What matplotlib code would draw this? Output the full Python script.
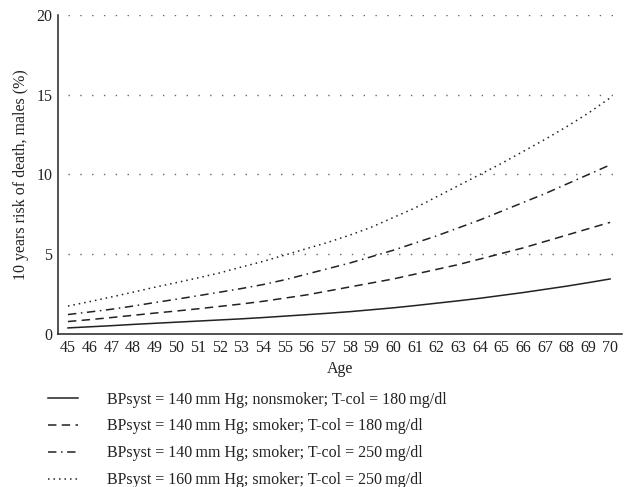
import matplotlib
matplotlib.use("Agg")
import matplotlib.pyplot as plt
from matplotlib.lines import Line2D

# Values (risk in %)
ages = list(range(45, 71))
nonsmoker_140_180 = [0.38, 0.45, 0.52, 0.60, 0.67, 0.74, 0.81, 0.88, 0.95, 1.03,
                     1.12, 1.21, 1.30, 1.40, 1.52, 1.64, 1.78, 1.93, 2.08, 2.24,
                     2.42, 2.60, 2.80, 3.00, 3.22, 3.45]
smoker_140_180 = [0.78, 0.90, 1.03, 1.17, 1.31, 1.44, 1.58, 1.73, 1.88, 2.05,
                  2.25, 2.45, 2.70, 2.95, 3.20, 3.45, 3.75, 4.05, 4.35, 4.70,
                  5.05, 5.40, 5.80, 6.20, 6.60, 7.00]
smoker_140_250 = [1.22, 1.38, 1.55, 1.75, 1.97, 2.18, 2.40, 2.62, 2.85, 3.10,
                  3.40, 3.75, 4.10, 4.45, 4.85, 5.25, 5.70, 6.15, 6.65, 7.15,
                  7.70, 8.25, 8.80, 9.40, 10.00, 10.60]
smoker_160_250 = [1.75, 2.03, 2.32, 2.62, 2.93, 3.22, 3.52, 3.83, 4.20, 4.55,
                  4.95, 5.35, 5.75, 6.20, 6.70, 7.30, 7.90, 8.60, 9.30, 10.00,
                  10.70, 11.45, 12.20, 13.00, 13.85, 14.80]
labels = [
    "BPsyst = 140\u2009mm Hg; nonsmoker; T-col = 180\u2009mg/dl",
    "BPsyst = 140\u2009mm Hg; smoker; T-col = 180\u2009mg/dl",
    "BPsyst = 140\u2009mm Hg; smoker; T-col = 250\u2009mg/dl",
    "BPsyst = 160\u2009mm Hg; smoker; T-col = 250\u2009mg/dl",
]
yticks = [0, 5, 10, 15, 20]

plt.rcParams["font.family"] = ["Liberation Serif", "DejaVu Serif"]
plt.rcParams["font.size"] = 11.5

INK = "#222222"
styles = ["-", (0, (5.5, 3.5)), (0, (5.5, 3, 1, 3)), (0, (1, 2.6))]
series = [nonsmoker_140_180, smoker_140_180, smoker_140_250, smoker_160_250]

fig = plt.figure(figsize=(6.25, 4.87), dpi=100)
ax = fig.add_axes([0.0928, 0.3142, 0.9024, 0.655])
ax.set_xlim(44.54, 70.55)
ax.set_ylim(0, 20)

# dotted grid lines, starting at first age
for y in yticks[1:]:
    ax.hlines(y, 45, 70.55, colors="#666666", linestyles=(0, (1, 7.5)), linewidth=1.0)

for vals, ls in zip(series, styles):
    ax.plot(ages, vals, color=INK, linestyle=ls, linewidth=1.1)

ax.set_xticks(ages)
ax.set_yticks(yticks)
ax.tick_params(length=0, pad=4, colors=INK)
for s in ("top", "right"):
    ax.spines[s].set_visible(False)
for s in ("left", "bottom"):
    ax.spines[s].set_color(INK)
    ax.spines[s].set_linewidth(1.1)
ax.set_xlabel("Age", color=INK, labelpad=4)
ax.set_ylabel("10 years risk of death, males (%)", color=INK, labelpad=5)

handles = [Line2D([], [], color=INK, linestyle=ls, linewidth=1.1) for ls in styles]
fig.legend(handles, labels, loc="upper left", bbox_to_anchor=(0.0768, 0.196),
           frameon=False, handlelength=1.875, handletextpad=1.8,
           labelspacing=0.68, borderpad=0, borderaxespad=0, labelcolor=INK)

fig.savefig("out.png", dpi=100)
